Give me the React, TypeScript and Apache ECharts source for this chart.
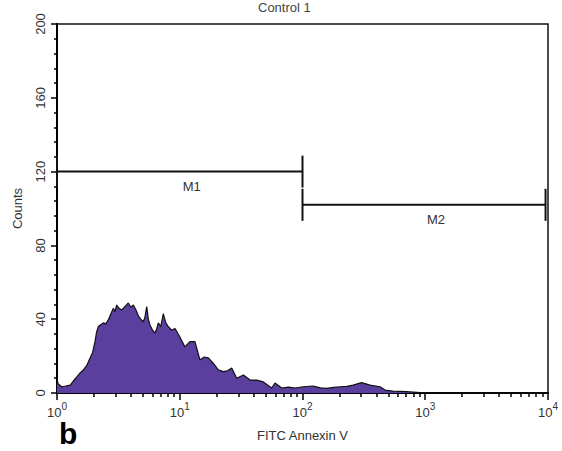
import React, { useEffect, useRef } from "react";
import * as echarts from "echarts";

// FITC Annexin V intensity (channel value) and event counts
const intensity = [
  1.0, 1.02, 1.09, 1.18, 1.28, 1.36, 1.45, 1.55, 1.64, 1.75, 1.86, 1.95, 2.04, 2.1, 2.17, 2.27, 2.38, 2.5, 2.62,
  2.75, 2.88, 2.97, 3.06, 3.2, 3.37, 3.6, 3.81, 4.0, 4.19, 4.4, 4.59, 4.8, 5.05, 5.2, 5.38, 5.55, 5.72,
  6.0, 6.29, 6.5, 6.69, 7.0, 7.35, 7.7, 8.07, 8.6, 9.15, 10.0, 11.0, 12.1, 13.3, 14.6, 15.8, 17.1, 18.8,
  20.6, 22.6, 24.5, 26.5, 29.1, 33.0, 37.4, 42.4, 48.0, 56.1, 59.7, 67.7, 77, 86.9, 101.6, 122, 140, 157,
  180, 202, 230, 258, 303, 355, 428, 470, 546, 706, 1028, 10000,
];
const counts = [
  8, 5, 3.4, 3.8, 4.3, 6.5, 8.7, 11, 12.5, 15, 19, 22, 27.8, 33, 36, 37, 38, 37.5, 39.6,
  43, 46, 44, 47.7, 46, 45, 47, 48.8, 46.5, 47.7, 45, 42, 40, 38.6, 41, 46.8, 40, 36.9,
  34, 32.5, 35, 38, 36, 43, 38, 36, 34, 35, 30.5, 25, 27.8, 27.8, 17.9, 19.5, 19, 16,
  12.5, 11.6, 12, 13.5, 8, 9.8, 7, 7, 6, 2.7, 5.4, 2.7, 3.2, 2.7, 3.4, 3.8, 2.8, 2.5,
  3.0, 3.4, 3.6, 4.3, 5.6, 4.3, 3.4, 1.6, 1, 0.7, 0, 0,
];

// Markers: [start, end, level]
const markerNames = ["M1", "M2"];
const markerStart = [1, 100];
const markerEnd = [100, 9550];
const markerLevel = [120, 102];

const yTicks = [0, 40, 80, 120, 160, 200];
const xMajor = [1, 10, 100, 1000, 10000];
const xMinor: number[] = [];
for (let d = 1; d < 10000; d *= 10) {
  for (let k = 2; k <= 9; k++) xMinor.push(d * k);
}

export default function App() {
  const ref = useRef<HTMLDivElement>(null);
  useEffect(() => {
    if (!ref.current) return;
    const chart = echarts.init(ref.current, null, { renderer: "svg" });
    const font = "Liberation Sans, Arial, sans-serif";
    const markerData = markerNames.map((n, i) => [markerStart[i], markerEnd[i], markerLevel[i], n]);
    chart.setOption({
      animation: false,
      grid: {
        left: 57,
        right: 14,
        top: 24,
        bottom: 58,
        show: true,
        borderColor: "#111",
        borderWidth: 1.5,
        backgroundColor: "transparent",
      },
      graphic: [
        {
          type: "text",
          left: 258,
          top: 1,
          style: { text: "Control 1", font: `13px ${font}`, fill: "#444" },
        },
        {
          type: "text",
          left: 59,
          top: 418,
          style: { text: "b", font: `bold 30px ${font}`, fill: "#000" },
        },
      ],
      xAxis: [
        {
          type: "log",
          logBase: 10,
          min: 1,
          max: 10000,
          position: "bottom",
          name: "FITC Annexin V",
          nameLocation: "middle",
          nameGap: 36,
          nameTextStyle: { fontFamily: font, fontSize: 13, color: "#333" },
          axisLine: { show: true, onZero: false, lineStyle: { color: "#000", width: 2 } },
          axisTick: { show: true, length: 7, lineStyle: { color: "#000", width: 1.5 }, customValues: xMajor },
          axisLabel: {
            customValues: xMajor,
            margin: 8,
            formatter: (v: number) => `{b|10}{s|${Math.round(Math.log10(v))}}`,
            rich: {
              b: { fontFamily: font, fontSize: 13, color: "#333", lineHeight: 18, verticalAlign: "bottom" },
              s: { fontFamily: font, fontSize: 10, color: "#333", lineHeight: 18, verticalAlign: "top", padding: [0, 0, 8, 0] },
            },
          },
          splitLine: { show: false },
        },
        {
          type: "log",
          logBase: 10,
          min: 1,
          max: 10000,
          position: "bottom",
          offset: 0,
          axisLine: { show: false, onZero: false },
          axisTick: { show: true, length: 4, lineStyle: { color: "#000", width: 1.5 }, customValues: xMinor },
          axisLabel: { show: false },
          splitLine: { show: false },
        },
      ],
      yAxis: {
        type: "value",
        min: 0,
        max: 200,
        interval: 40,
        name: "Counts",
        nameLocation: "middle",
        nameGap: 33,
        nameRotate: 90,
        nameTextStyle: { fontFamily: font, fontSize: 13, color: "#333" },
        axisLine: { show: true, lineStyle: { color: "#000", width: 2 } },
        axisTick: { show: true, length: 6, lineStyle: { color: "#000", width: 1.5 }, customValues: yTicks },
        minorTick: { show: true, splitNumber: 5, length: 3, lineStyle: { color: "#000", width: 1.5 } },
        axisLabel: { rotate: 90, margin: 10, fontFamily: font, fontSize: 13, color: "#333" },
        splitLine: { show: false },
        minorSplitLine: { show: false },
      },
      series: [
        {
          type: "line",
          xAxisIndex: 0,
          data: intensity.map((x, i) => [x, counts[i]]),
          symbol: "none",
          lineStyle: { color: "#111", width: 1.2 },
          areaStyle: { color: "#5b3f9f", opacity: 1 },
          z: 2,
        },
        {
          type: "custom",
          xAxisIndex: 0,
          data: markerData,
          z: 5,
          renderItem: (params: any, api: any) => {
            const a = api.coord([api.value(0), api.value(2)]);
            const b = api.coord([api.value(1), api.value(2)]);
            const name = markerNames[params.dataIndex];
            const h = 16;
            const st = { stroke: "#111", lineWidth: 2 };
            return {
              type: "group",
              children: [
                { type: "line", shape: { x1: a[0], y1: a[1], x2: b[0], y2: b[1] }, style: st },
                { type: "line", shape: { x1: a[0], y1: a[1] - h, x2: a[0], y2: a[1] + h }, style: st },
                { type: "line", shape: { x1: b[0], y1: b[1] - h, x2: b[0], y2: b[1] + h }, style: st },
                {
                  type: "text",
                  x: (a[0] + b[0]) / 2 + 12,
                  y: a[1] + 15,
                  style: {
                    text: name,
                    font: `13px ${font}`,
                    fill: "#333",
                    align: "center",
                    verticalAlign: "middle",
                  },
                },
              ],
            };
          },
        },
      ],
    });
    return () => chart.dispose();
  }, []);
  return (
    <div
      ref={ref}
      style={{ position: "fixed", left: 0, top: 0, width: 562, height: 451, background: "#fff" }}
    />
  );
}
